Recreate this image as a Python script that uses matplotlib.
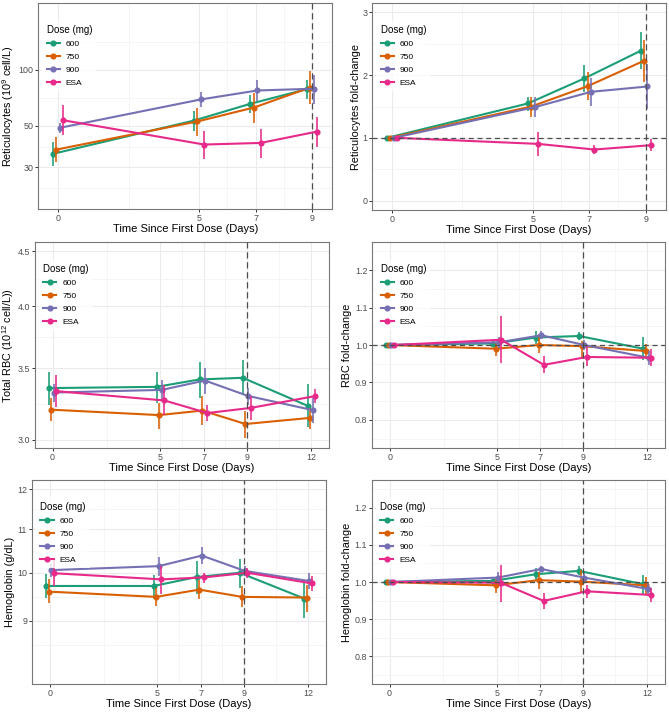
import numpy as np
import matplotlib
matplotlib.use("Agg")
import matplotlib.pyplot as plt
from matplotlib.ticker import NullFormatter

plt.rcParams["font.family"] = ["Liberation Sans", "DejaVu Sans"]
plt.rcParams["mathtext.fontset"] = "custom"
plt.rcParams["mathtext.rm"] = "Liberation Sans"
plt.rcParams["mathtext.it"] = "Liberation Sans:italic"

groups = ["600", "750", "900", "ESA"]
colors = ["#1B9E77", "#D95F02", "#7570B3", "#E7298A"]
dodge = [-0.18, -0.06, 0.06, 0.18]

days_short = [0, 5, 7, 9]
days_long = [0, 5, 7, 9, 12]

# reticulocytes (10^9 cell/L)
ret_mean = [[35.4, 53.4, 65.7, 78.7], [37.3, 52.8, 62.7, 80.3],
            [48.8, 69.3, 77.4, 79.1], [53.6, 39.7, 40.5, 46.6]]
ret_lo = [[30.5, 47.0, 58.5, 69.5], [32.0, 44.2, 52.1, 65.6],
          [45.8, 63.0, 67.6, 65.6], [44.7, 33.4, 33.8, 38.7]]
ret_hi = [[40.8, 60.4, 73.1, 88.0], [43.5, 62.2, 74.9, 98.0],
          [51.9, 76.2, 88.4, 93.6], [64.3, 46.8, 48.2, 56.1]]

# reticulocytes fold-change
retfc_mean = [[1, 1.548, 1.947, 2.388], [1, 1.50, 1.824, 2.229],
              [1, 1.489, 1.734, 1.819], [1, 0.904, 0.814, 0.883]]
retfc_lo = [[1, 1.436, 1.734, 2.096], [1, 1.34, 1.606, 1.883],
            [1, 1.33, 1.51, 1.457], [1, 0.713, 0.745, 0.798]]
retfc_hi = [[1, 1.649, 2.16, 2.68], [1, 1.644, 2.048, 2.564],
            [1, 1.649, 1.947, 2.176], [1, 1.096, 0.894, 0.979]]

# total RBC (10^12 cell/L)
rbc_mean = [[3.353, 3.362, 3.416, 3.428, 3.228], [3.201, 3.164, 3.195, 3.104, 3.145],
            [3.321, 3.34, 3.408, 3.297, 3.198], [3.331, 3.265, 3.178, 3.213, 3.296]]
rbc_lo = [[3.231, 3.249, 3.28, 3.302, 3.082], [3.126, 3.07, 3.097, 3.015, 3.07],
          [3.254, 3.27, 3.311, 3.234, 3.11], [3.222, 3.166, 3.121, 3.129, 3.245]]
rbc_hi = [[3.474, 3.47, 3.55, 3.56, 3.38], [3.28, 3.249, 3.297, 3.195, 3.21],
          [3.383, 3.411, 3.5, 3.355, 3.28], [3.45, 3.378, 3.236, 3.3, 3.346]]

# RBC fold-change
rbcfc_mean = [[1, 1.004, 1.020, 1.024, 0.990], [1, 0.990, 1.0, 0.997, 0.984],
              [1, 1.007, 1.026, 1.0, 0.966], [1, 1.014, 0.947, 0.968, 0.966]]
rbcfc_lo = [[1, 0.995, 1.003, 1.013, 0.959], [1, 0.971, 0.979, 0.963, 0.963],
            [1, 0.992, 1.015, 0.987, 0.947], [1, 0.952, 0.926, 0.943, 0.945]]
rbcfc_hi = [[1, 1.012, 1.038, 1.035, 1.022], [1, 1.009, 1.029, 1.01, 1.004],
            [1, 1.022, 1.037, 1.014, 0.983], [1, 1.077, 0.970, 0.996, 0.988]]

# hemoglobin (g/dL)
hgb_mean = [[9.715, 9.715, 9.906, 10.0, 9.452], [9.596, 9.486, 9.638, 9.486, 9.472],
            [10.058, 10.146, 10.383, 10.04, 9.82], [9.99, 9.856, 9.9, 10.0, 9.77]]
hgb_lo = [[9.466, 9.452, 9.555, 9.68, 9.05], [9.35, 9.30, 9.432, 9.27, 9.18],
          [9.906, 9.92, 10.19, 9.92, 9.65], [9.71, 9.555, 9.786, 9.89, 9.61]]
hgb_hi = [[9.971, 9.957, 10.27, 10.31, 9.78], [9.856, 9.68, 9.842, 9.708, 9.73],
          [10.2, 10.36, 10.58, 10.16, 10.0], [10.29, 10.14, 10.0, 10.1, 9.935]]

# hemoglobin fold-change
hgbfc_mean = [[1, 1.003, 1.021, 1.030, 0.994], [1, 0.991, 1.005, 1.001, 0.991],
              [1, 1.012, 1.035, 1.012, 0.981], [1, 0.998, 0.949, 0.975, 0.965]]
hgbfc_lo = [[1, 0.992, 1.005, 1.019, 0.965], [1, 0.971, 0.982, 0.971, 0.968],
            [1, 0.998, 1.028, 0.999, 0.963], [1, 0.947, 0.928, 0.958, 0.946]]
hgbfc_hi = [[1, 1.012, 1.037, 1.043, 1.020], [1, 1.009, 1.028, 1.032, 1.014],
            [1, 1.028, 1.043, 1.025, 0.998], [1, 1.047, 0.970, 0.991, 0.984]]

W, H = 669, 713
fig = plt.figure(figsize=(W / 100, H / 100), dpi=100)


def px_axes(l, t, r, b):
    return fig.add_axes([l / W, 1 - b / H, (r - l) / W, (b - t) / H])


def minor_between(vals, log=False):
    v = np.log10(vals) if log else np.asarray(vals, dtype=float)
    d = np.diff(v)
    mids = list((v[:-1] + v[1:]) / 2)
    mids = [v[0] - d[0] / 2] + mids + [v[-1] + d[-1] / 2]
    mids = np.array(mids)
    return 10 ** mids if log else mids


def panel(ax, days, mean, lo, hi, ylabel, yticks, yticklabels, ylim, xlim,
          ylab_x, log=False, hline=False):
    if log:
        ax.set_yscale("log")
    for i, g in enumerate(groups):
        x = np.array(days) + dodge[i]
        ax.plot(x, mean[i], color=colors[i], lw=1.5, marker="o", ms=3.4,
                label=g, zorder=3 + i)
        ax.vlines(x, lo[i], hi[i], color=colors[i], lw=1.15, zorder=3 + i)
    ax.axvline(9, color="#4D4D4D", lw=0.9, ls=(0, (5, 3)), zorder=8)
    if hline:
        ax.axhline(1, color="#4D4D4D", lw=0.9, ls=(0, (4, 3)), zorder=8)

    ax.set_xticks(days)
    ax.set_xticklabels([str(d) for d in days])
    ax.set_xticks(minor_between(days), minor=True)
    ax.set_yticks(yticks)
    ax.set_yticklabels(yticklabels)
    ax.set_yticks(minor_between(yticks, log=log), minor=True)
    ax.yaxis.set_minor_formatter(NullFormatter())
    ax.set_ylim(ylim)
    ax.set_xlim(xlim)

    ax.grid(True, which="major", color="#EBEBEB", lw=0.8)
    ax.grid(True, which="minor", color="#F2F2F2", lw=0.5)
    ax.set_axisbelow(True)
    ax.tick_params(which="major", length=2.5, width=0.7, color="#333333",
                   labelsize=6.4, labelcolor="#4D4D4D", pad=1.0)
    ax.tick_params(which="minor", length=0)
    for s in ax.spines.values():
        s.set_color("#777777")
        s.set_linewidth(0.8)

    ax.set_xlabel("Time Since First Dose (Days)", fontsize=8, labelpad=0.5)
    ax.set_ylabel(ylabel, fontsize=7.8)
    ax.yaxis.set_label_coords(ylab_x, 0.5)

    leg = ax.legend(title="Dose (mg)", loc="upper left",
                    bbox_to_anchor=(0.0, 0.935), fontsize=6,
                    title_fontsize=7, frameon=True, fancybox=False,
                    handlelength=1.6, handletextpad=0.7, labelspacing=0.62,
                    borderpad=0.5, numpoints=1)
    leg.get_frame().set_edgecolor("none")
    leg.get_frame().set_facecolor("white")
    leg._legend_box.align = "left"
    leg.set_zorder(10)


ax1 = px_axes(38.3, 3, 332.3, 209.5)
panel(ax1, days_short, ret_mean, ret_lo, ret_hi,
      r"Reticulocytes (10$^{9}$ cell/L)", [30, 50, 100], ["30", "50", "100"],
      (17.8, 228), (-0.7, 9.72), -0.076, log=True)

ax2 = px_axes(372.3, 3, 666, 210)
panel(ax2, days_short, retfc_mean, retfc_lo, retfc_hi,
      "Reticulocytes fold-change", [0, 1, 2, 3], ["0", "1", "2", "3"],
      (-0.15, 3.15), (-0.7, 9.72), -0.039, hline=True)

ax3 = px_axes(34.7, 242, 329.3, 448.3)
panel(ax3, days_long, rbc_mean, rbc_lo, rbc_hi,
      r"Total RBC (10$^{12}$ cell/L))", [3.0, 3.5, 4.0, 4.5],
      ["3.0", "3.5", "4.0", "4.5"], (2.946, 4.59), (-0.83, 12.83), -0.064,
      log=True)

ax4 = px_axes(372.3, 242, 665, 448)
panel(ax4, days_long, rbcfc_mean, rbcfc_lo, rbcfc_hi,
      "RBC fold-change", [0.8, 0.9, 1.0, 1.1, 1.2],
      ["0.8", "0.9", "1.0", "1.1", "1.2"], (0.725, 1.275), (-0.83, 12.83),
      -0.068, hline=True)

ax5 = px_axes(32, 480, 326, 684)
panel(ax5, days_long, hgb_mean, hgb_lo, hgb_hi,
      "Hemoglobin (g/dL)", [9, 10, 11, 12], ["9", "10", "11", "12"],
      (7.84, 12.25), (-0.83, 12.83), -0.057, log=True)

ax6 = px_axes(371.7, 480, 665, 684)
panel(ax6, days_long, hgbfc_mean, hgbfc_lo, hgbfc_hi,
      "Hemoglobin fold-change", [0.8, 0.9, 1.0, 1.1, 1.2],
      ["0.8", "0.9", "1.0", "1.1", "1.2"], (0.725, 1.275), (-0.83, 12.83),
      -0.066, hline=True)

fig.savefig("out.png", dpi=100, facecolor="white")
